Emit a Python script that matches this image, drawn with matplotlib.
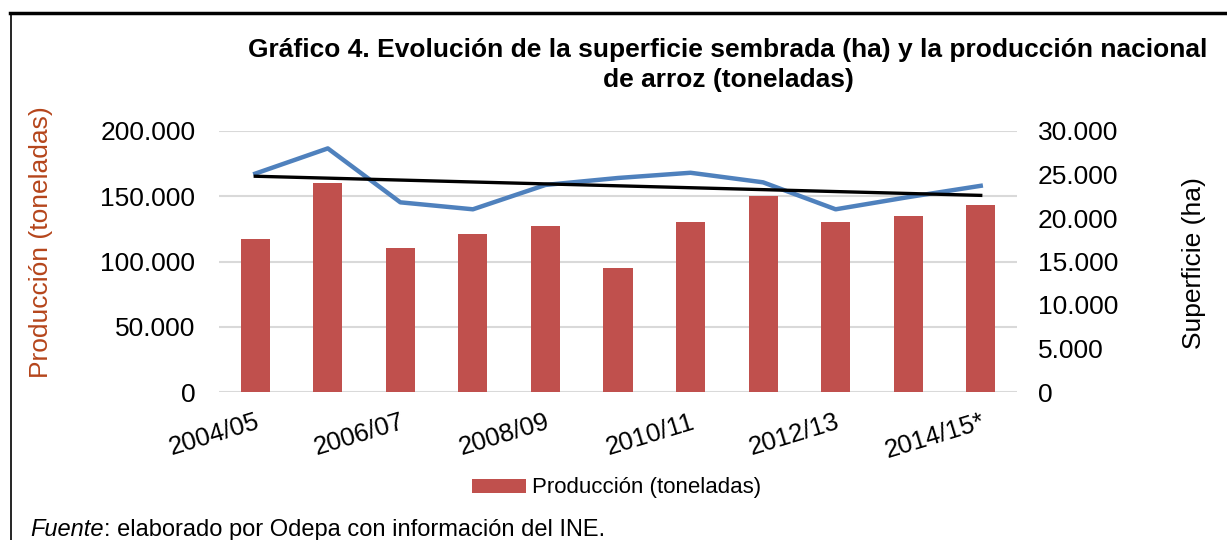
import numpy as np
import matplotlib.pyplot as plt
from matplotlib.ticker import FuncFormatter
from matplotlib.lines import Line2D

plt.rcParams['font.family'] = ['Liberation Sans', 'DejaVu Sans']

# data
temporadas = ["2004/05", "2005/06", "2006/07", "2007/08", "2008/09", "2009/10",
              "2010/11", "2011/12", "2012/13", "2013/14", "2014/15*"]
produccion = [117000, 160300, 110200, 121400, 127200, 94900,
              130500, 149900, 130000, 134900, 143000]
superficie = [25100, 28000, 21800, 21000, 23800, 24600,
              25200, 24100, 21000, 22400, 23700]

def miles(v, pos):
    return f"{v:,.0f}".replace(",", ".")

fig = plt.figure(figsize=(12.27, 5.4), dpi=100)
ax = fig.add_axes([219 / 1227, 1 - 392 / 540, (1017 - 219) / 1227, (392 - 131) / 540])
x = np.arange(len(temporadas))

bars = ax.bar(x, produccion, width=0.4, color="#C0504D", label="Producción (toneladas)", zorder=2)
ax.set_ylim(0, 200000)
ax.set_xlim(-0.5, len(temporadas) - 0.5)
ax.set_yticks(np.arange(0, 200001, 50000))
ax.yaxis.set_major_formatter(FuncFormatter(miles))
ax.grid(axis="y", color="#D9D9D9", lw=1.5, zorder=0)
ax.set_axisbelow(True)
for s in ax.spines.values():
    s.set_visible(False)
ax.tick_params(axis="y", length=0, labelsize=19, pad=17)
ax.set_xticks(x[::2])
ax.set_xticklabels(temporadas[::2], rotation=17, ha="right", rotation_mode="anchor", fontsize=18.5)
ax.tick_params(axis="x", length=0, pad=13)
ax.set_ylabel("Producción (toneladas)", color="#B5451B", fontsize=19)
ax.yaxis.set_label_coords((53 - 219) / 798, 0.575)

ax2 = ax.twinx()
ax2.set_ylim(0, 30000)
ax2.set_yticks(np.arange(0, 30001, 5000))
ax2.yaxis.set_major_formatter(FuncFormatter(miles))
for s in ax2.spines.values():
    s.set_visible(False)
ax2.tick_params(axis="y", length=0, labelsize=19, pad=15)
ax2.plot(x, superficie, color="#4F81BD", lw=3.2, zorder=3)
# linear trend of superficie
k, b = np.polyfit(x, superficie, 1)
ax2.plot(x, k * x + b, color="black", lw=2.4, zorder=4)
ax2.set_ylabel("Superficie (ha)", fontsize=19)
ax2.yaxis.set_label_coords((1182 - 219) / 798, (392 - 263) / 261)

fig.text(728 / 1227, 1 - 65 / 540, "Gráfico 4. Evolución de la superficie sembrada (ha) y la producción nacional\nde arroz (toneladas)",
         ha="center", va="center", fontsize=19, fontweight="bold", linespacing=1.36)

fig.legend(handles=[bars], loc="center", bbox_to_anchor=(617 / 1227, 1 - 488 / 540),
           frameon=False, fontsize=16, handlelength=2.4, handleheight=0.6, handletextpad=0.3)

# footer with italic first word
fig.canvas.draw()
r = fig.canvas.get_renderer()
t1 = fig.text(30 / 1227, 1 - 530 / 540, "Fuente", style="italic", fontsize=17, va="center")
bb = t1.get_window_extent(renderer=r)
fig.text(bb.x1 / 1227, 1 - 530 / 540, ": elaborado por Odepa con información del INE.", fontsize=17, va="center")

# frame
fig.add_artist(Line2D([10 / 1227, 1], [1 - 13 / 540, 1 - 13 / 540], color="black", lw=2.5))
fig.add_artist(Line2D([10.5 / 1227, 10.5 / 1227], [0, 1 - 13 / 540], color="black", lw=1.2))

fig.savefig("out.png", dpi=100)
